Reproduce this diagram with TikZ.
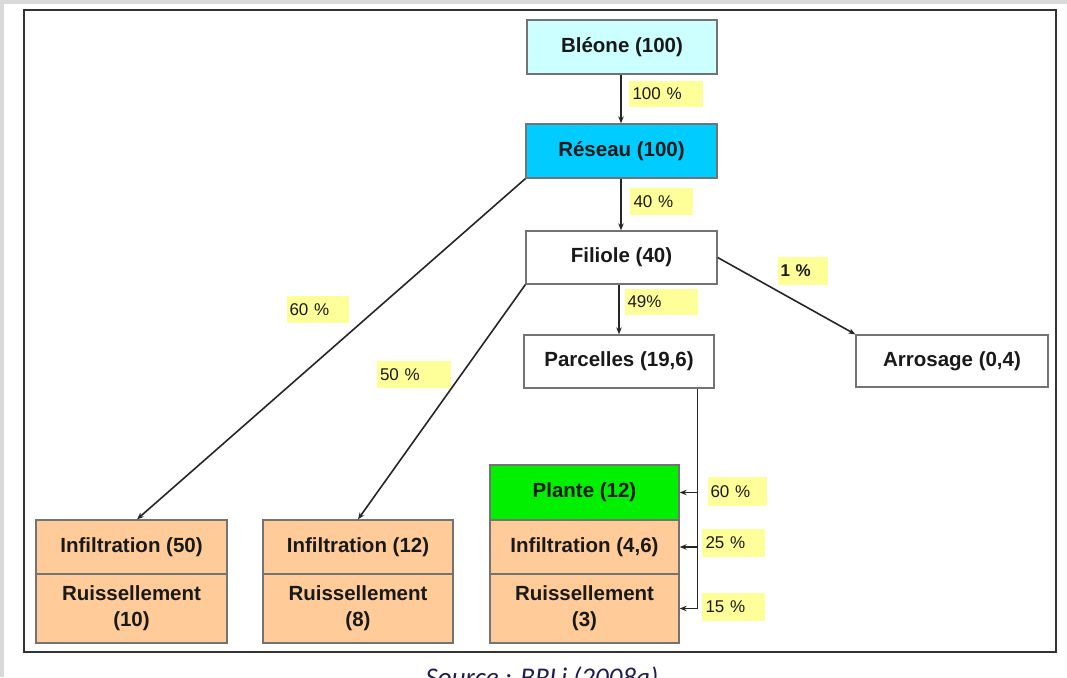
\documentclass[tikz,border=0pt]{standalone}
\usepackage{fontspec}
\setmainfont{Liberation Sans}
\newfontfamily\capfont{Carlito}
\usetikzlibrary{arrows.meta,calc}
\definecolor{bgray}{RGB}{217,217,217}
\definecolor{cyanlight}{RGB}{204,255,255}
\definecolor{cyandeep}{RGB}{0,204,255}
\definecolor{plantgreen}{RGB}{0,240,0}
\definecolor{peach}{RGB}{255,204,153}
\definecolor{labyellow}{RGB}{255,255,153}
\definecolor{capblue}{RGB}{30,30,80}
\tikzset{
  box/.style={draw=black!55, line width=1.3pt, inner sep=0pt, font=\fontsize{20.5}{26}\selectfont\bfseries, text=black!90, align=center},
  lab/.style={fill=labyellow, inner xsep=0pt, inner ysep=0pt, font=\fontsize{17}{20}\selectfont, align=left, text=black!90},
  flow/.style={line width=1.6pt, black!85, -{Stealth[length=7pt,width=5.5pt]}},
}
\begin{document}
\begin{tikzpicture}[x=1pt,y=-1pt]
\useasboundingbox (0,0) rectangle (1067,677);
\clip (0,0) rectangle (1067,677);
\fill[bgray] (0,0) rectangle (1067,677);
\fill[white] (4,4) rectangle (1067,677);
\draw[line width=2.5pt, black!80] (24,10) rectangle (1056,652);

% main nodes
\node[box, fill=cyanlight, minimum width=190pt, minimum height=54pt] (bleone) at (622,47) {Bléone (100)};
\node[box, fill=cyandeep, minimum width=191pt, minimum height=54pt] (reseau) at (621.5,151) {Réseau (100)};
\node[box, fill=white, minimum width=191pt, minimum height=53pt] (filiole) at (621.5,257.5) {Filiole (40)};
\node[box, fill=white, minimum width=190pt, minimum height=53pt] (parcelles) at (619,361.5) {Parcelles (19,6)};
\node[box, fill=white, minimum width=192pt, minimum height=52pt] (arrosage) at (952,361) {Arrosage (0,4)};

% bottom groups
\node[box, fill=peach, minimum width=191pt, minimum height=54pt] (inf50) at (131.5,547) {Infiltration (50)};
\node[box, fill=peach, minimum width=191pt, minimum height=69pt] (ruis10) at (131.5,608.5) {Ruissellement\\(10)};
\node[box, fill=peach, minimum width=190pt, minimum height=54pt] (inf12) at (358,547) {Infiltration (12)};
\node[box, fill=peach, minimum width=190pt, minimum height=69pt] (ruis8) at (358,608.5) {Ruissellement\\(8)};
\node[box, fill=plantgreen, minimum width=189pt, minimum height=55pt] (plante) at (584.5,492.5) {Plante (12)};
\node[box, fill=peach, minimum width=189pt, minimum height=54pt] (inf46) at (584.5,547) {Infiltration (4,6)};
\node[box, fill=peach, minimum width=189pt, minimum height=69pt] (ruis3) at (584.5,608.5) {Ruissellement\\(3)};

% labels
\node[lab, minimum width=74pt, minimum height=26pt, text width=67pt] (l100) at (666,94) {100 \%};
\node[lab, minimum width=63pt, minimum height=27pt, text width=56pt] (l40) at (661.5,201.5) {40 \%};
\node[lab, minimum width=73pt, minimum height=26pt, text width=68pt] (l49) at (661.5,302) {49\%};
\node[lab, minimum width=62pt, minimum height=27pt, text width=57pt] (l60a) at (318,309.5) {60 \%};
\node[lab, minimum width=74pt, minimum height=27pt, text width=68pt] (l50) at (414,374.5) {50 \%};
\node[lab, minimum width=50pt, minimum height=28pt, text width=45pt, font=\fontsize{17}{20}\selectfont\bfseries] (l1) at (803,271) {1 \%};
\node[lab, minimum width=59pt, minimum height=29pt, text width=54pt] (l60b) at (737.5,491.5) {60 \%};
\node[lab, minimum width=63pt, minimum height=28pt, text width=56pt] (l25) at (733.5,543) {25 \%};
\node[lab, minimum width=63pt, minimum height=28pt, text width=56pt] (l15) at (733.5,607) {15 \%};

% connectors
\draw[flow] ($(bleone.south)+(-1,0)$) -- ($(reseau.north)+(-0.5,0)$);
\draw[flow] ($(reseau.south)+(-0.5,0)$) -- ($(filiole.north)+(-0.5,0)$);
\draw[flow] (parcelles.north |- filiole.south) -- (parcelles.north);
\draw[flow] (reseau.south west) -- ($(inf50.north)+(5.5,0)$);
\draw[flow] (filiole.south west) -- ($(inf12.north)+(0,0)$);
\draw[flow] (filiole.east) -- (arrosage.north west);
\coordinate (ptop) at ($(parcelles.south east)+(-17,0)$);
\draw[line width=1.6pt, black!85] (ptop) -- (ptop |- ruis3.east);
\draw[flow] (ptop |- plante.east) -- (plante.east);
\draw[flow] (ptop |- inf46.east) -- (inf46.east);
\draw[flow] (ptop |- ruis3.east) -- (ruis3.east);

% caption (cut by the lower edge, as in the reference)
\node[anchor=base, font=\capfont\itshape\fontsize{27}{30}\selectfont, text=capblue, inner sep=0pt] (src) at (542,686) {Source : BRLi (2008a)};
\end{tikzpicture}
\end{document}
